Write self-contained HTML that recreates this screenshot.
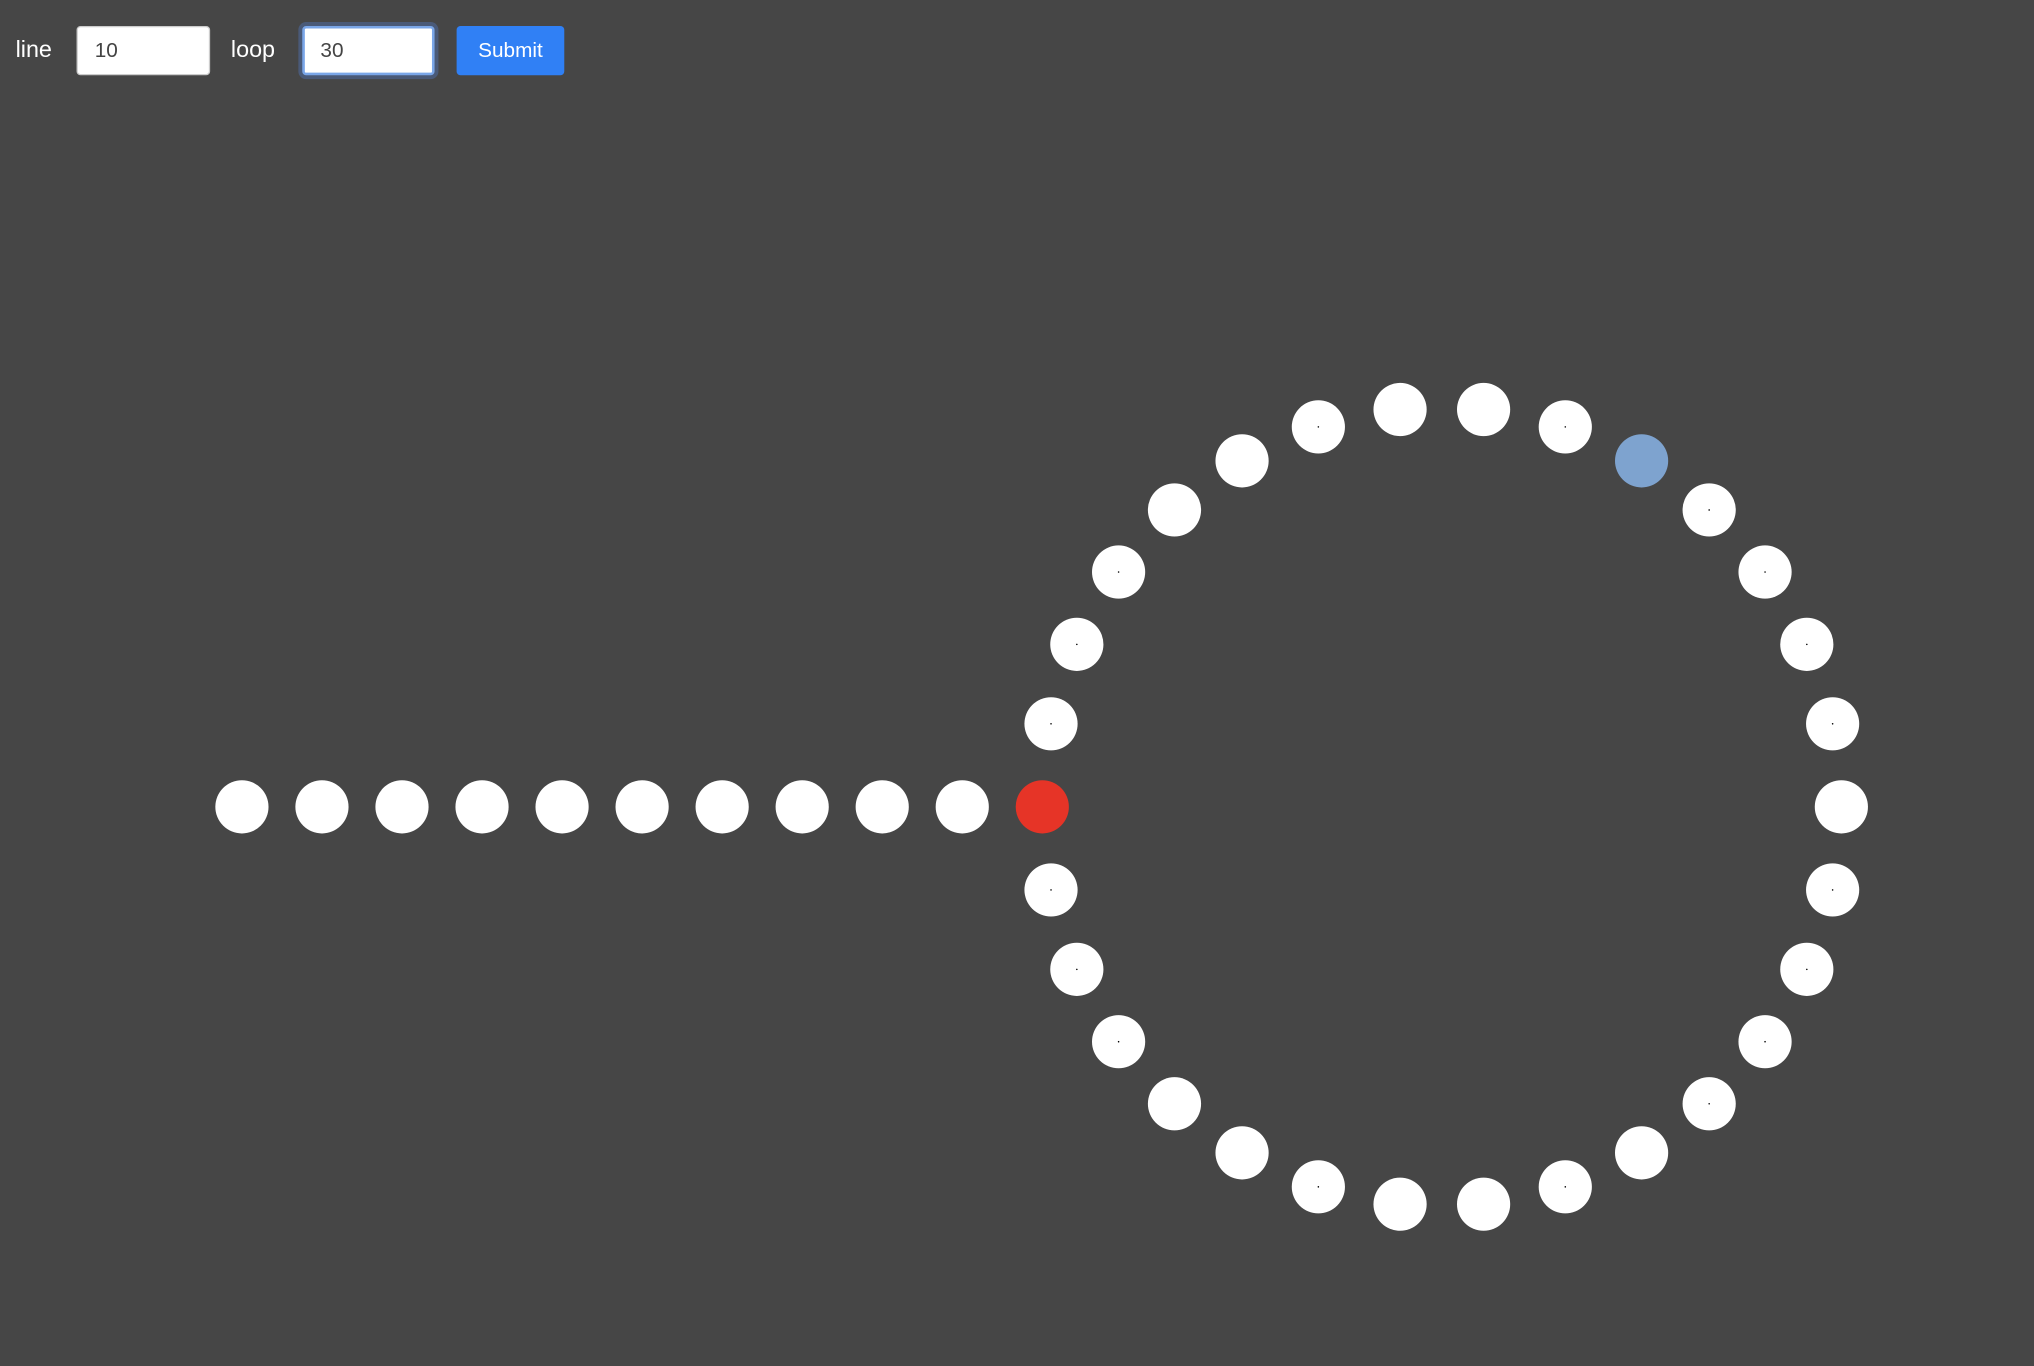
<!DOCTYPE html>
<html><head><meta charset="utf-8"><style>
html,body{margin:0;padding:0;background:#464646;width:2034px;height:1366px;overflow:hidden}
#wrap{position:absolute;left:0;top:0;width:1568px;height:1053px;transform:scale(1.29719);transform-origin:0 0;font-family:"Liberation Sans",sans-serif}
.lbl{position:absolute;top:28px;color:#fff;font-size:18px}
.inp{position:absolute;top:20px;height:38px;box-sizing:border-box;background:#fff;border:1px solid #ccc;border-radius:3px;font-size:16px;color:#444;padding:10px 13px}
#btn{position:absolute;left:352px;top:20px;width:83px;height:38px;background:#3080f5;border-radius:3px;color:#fff;font-size:16px;text-align:center;line-height:39px}
svg{position:absolute;left:0;top:0}
</style></head><body>
<div id="wrap">
<div class="lbl" style="left:12px">line</div>
<div class="inp" style="left:59px;width:103px">10</div>
<div class="lbl" style="left:178px">loop</div>
<div class="inp" style="left:233px;width:102px;border:2px solid #7aa6e8;box-shadow:0 0 0 3px #4a5a78;padding:9px 12px">30</div>
<div id="btn">Submit</div>
<svg id="chart" width="1568" height="1053"></svg>
</div>
<script>
const lineCount = 10;
const loopCount = 30;
const highlightIndex = 10;
const dottedLoop = [0,1,1,1,0,0,1,0,0,1,0,1,1,1,1,0,1,1,1,1,0,1,0,0,1,0,0,1,1,1];
const svg = document.getElementById('chart');
const NS = 'http://www.w3.org/2000/svg';
const cx = 1111.5, cy = 622, R = 308, step = 61.7, r = 20.5;
function circ(x, y, rad, fill, name) {
  const c = document.createElementNS(NS, 'circle');
  c.setAttribute('cx', x); c.setAttribute('cy', y); c.setAttribute('r', rad); c.setAttribute('fill', fill);
  
  
  svg.appendChild(c);
}
const startX = cx - R;
for (let i = 0; i < lineCount; i++) {
  circ(startX - (lineCount - i) * step, cy, r, '#fff', 'line-dot');
}
for (let k = 0; k < loopCount; k++) {
  const a = Math.PI - k * 2 * Math.PI / loopCount;
  const x = cx + R * Math.cos(a), y = cy - R * Math.sin(a);
  let fill = '#fff';
  if (k === 0) fill = '#e63427';
  else if (k === highlightIndex) fill = '#7ea3cf';
  circ(x, y, r, fill, k === 0 ? 'start-dot' : (k === highlightIndex ? 'highlight-dot' : 'loop-dot'));
  if (dottedLoop[k] && fill === '#fff') circ(x, y, 0.6, '#000', 'center-mark');
}
</script>
</body></html>
